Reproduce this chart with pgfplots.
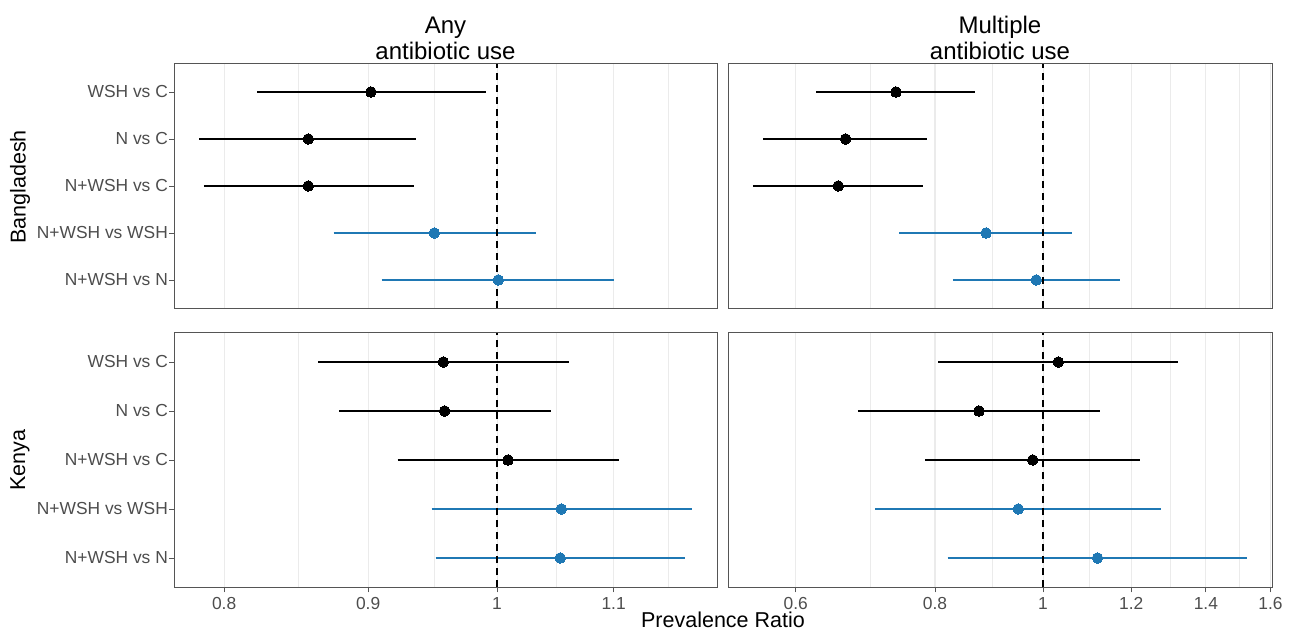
\documentclass[border=0pt]{standalone}
\usepackage{fontspec}
\setmainfont{Liberation Sans}
\usepackage{pgfplots}
\pgfplotsset{compat=1.18}
\pgfkeys{/pgf/number format/assume math mode=true}
\definecolor{cblue}{HTML}{1F78B4}
\definecolor{gridc}{HTML}{EBEBEB}
\definecolor{framec}{HTML}{555555}
\definecolor{tickc}{HTML}{4D4D4D}
\newcommand{\seg}[4]{\addplot[color=#4, line width=1.9pt, forget plot] coordinates {(#1,#3) (#2,#3)};}
\pgfplotsset{
 fpPanel/.style={
  scale only axis, ymin=0.4, ymax=5.6,
  axis line style={draw=framec, line width=0.9pt},
  tick align=outside, major tick length=5pt, minor tick length=0pt,
  tick style={draw=framec, line width=0.9pt},
  xtick pos=left, ytick pos=left,
  xmajorgrids, xminorgrids,
  major grid style={draw=gridc, line width=1.1pt},
  minor grid style={draw=gridc, line width=0.55pt},
  ticklabel style={font=\fontsize{17.4}{20}\selectfont, text=tickc},
  xticklabel style={inner sep=0pt, yshift=-5pt},
  yticklabel style={inner sep=1pt},
  anchor=south west,
 },
 fpLeftCol/.style={width=543pt, xmin=0.768, xmax=1.197, xtick={0.8,0.9,1,1.1}, minor xtick={0.85,0.95,1.05,1.15}},
 fpRightCol/.style={width=544pt, xmin=0.5216, xmax=1.605, xtick={0.6,0.8,1,1.2,1.4,1.6}, minor xtick={0.7,0.9,1.1,1.3,1.5}},
 fpTop/.style={height=244.4pt, xmajorticks=false},
 fpBot/.style={height=254.8pt},
 fpLeftPanel/.style={ytick={1,2,3,4,5}, yticklabels={N+WSH vs N, N+WSH vs WSH, N+WSH vs C, N vs C, WSH vs C}},
 fpRightPanel/.style={ytick=\empty},
 fpVline/.style={black, line width=1.6pt, dash pattern=on 7pt off 5pt, forget plot},
 fpBlk/.style={only marks, mark=*, mark size=5.3pt, color=black, mark options={solid, draw=black, fill=black, line width=0pt}},
 fpBlu/.style={only marks, mark=*, mark size=5.3pt, color=cblue, mark options={solid, draw=cblue, fill=cblue, line width=0pt}},
}
\begin{document}
\begin{tikzpicture}
\path[use as bounding box] (0pt,0pt) rectangle (1295pt,631pt);
% Bangladesh - Any
\begin{semilogxaxis}[fpPanel, fpLeftCol, fpTop, fpLeftPanel, at={(174pt,322.8pt)}]
\seg{0.822}{0.991}{5}{black}
\seg{0.784}{0.936}{4}{black}
\seg{0.787}{0.934}{3}{black}
\seg{0.875}{1.032}{2}{cblue}
\seg{0.910}{1.100}{1}{cblue}
\addplot[fpVline] coordinates {(1,0.4) (1,5.6)};
\addplot[fpBlk] coordinates {(0.902,5) (0.857,4) (0.857,3)};
\addplot[fpBlu] coordinates {(0.950,2) (1.001,1)};
\end{semilogxaxis}
% Bangladesh - Multiple
\begin{semilogxaxis}[fpPanel, fpRightCol, fpTop, fpRightPanel, at={(728pt,322.8pt)}]
\seg{0.626}{0.868}{5}{black}
\seg{0.561}{0.787}{4}{black}
\seg{0.549}{0.781}{3}{black}
\seg{0.743}{1.062}{2}{cblue}
\seg{0.830}{1.172}{1}{cblue}
\addplot[fpVline] coordinates {(1,0.4) (1,5.6)};
\addplot[fpBlk] coordinates {(0.738,5) (0.665,4) (0.655,3)};
\addplot[fpBlu] coordinates {(0.889,2) (0.986,1)};
\end{semilogxaxis}
% Kenya - Any
\begin{semilogxaxis}[fpPanel, fpLeftCol, fpBot, fpLeftPanel, at={(174pt,43.6pt)}, xticklabels={0.8,0.9,1,1.1}]
\seg{0.864}{1.061}{5}{black}
\seg{0.879}{1.045}{4}{black}
\seg{0.922}{1.105}{3}{black}
\seg{0.948}{1.173}{2}{cblue}
\seg{0.951}{1.166}{1}{cblue}
\addplot[fpVline] coordinates {(1,0.4) (1,5.6)};
\addplot[fpBlk] coordinates {(0.957,5) (0.958,4) (1.009,3)};
\addplot[fpBlu] coordinates {(1.054,2) (1.053,1)};
\end{semilogxaxis}
% Kenya - Multiple
\begin{semilogxaxis}[fpPanel, fpRightCol, fpBot, fpRightPanel, at={(728pt,43.6pt)}, xticklabels={0.6,0.8,1,1.2,1.4,1.6}]
\seg{0.805}{1.322}{5}{black}
\seg{0.682}{1.126}{4}{black}
\seg{0.784}{1.222}{3}{black}
\seg{0.707}{1.276}{2}{cblue}
\seg{0.821}{1.525}{1}{cblue}
\addplot[fpVline] coordinates {(1,0.4) (1,5.6)};
\addplot[fpBlk] coordinates {(1.032,5) (0.876,4) (0.979,3)};
\addplot[fpBlu] coordinates {(0.950,2) (1.119,1)};
\end{semilogxaxis}
% titles
\node[font=\fontsize{24}{27}\selectfont, anchor=base] at (445.5pt,597.5pt) {Any};
\node[font=\fontsize{24}{27}\selectfont, anchor=base] at (445.5pt,571pt) {antibiotic use};
\node[font=\fontsize{24}{27}\selectfont, anchor=base] at (1000pt,597.5pt) {Multiple};
\node[font=\fontsize{24}{27}\selectfont, anchor=base] at (1000pt,571pt) {antibiotic use};
\node[font=\fontsize{21.5}{24}\selectfont, rotate=90] at (20pt,444pt) {Bangladesh};
\node[font=\fontsize{21.5}{24}\selectfont, rotate=90] at (20pt,171pt) {Kenya};
\node[font=\fontsize{21.5}{24}\selectfont, anchor=base] at (723pt,3.5pt) {Prevalence Ratio};
\end{tikzpicture}
\end{document}
